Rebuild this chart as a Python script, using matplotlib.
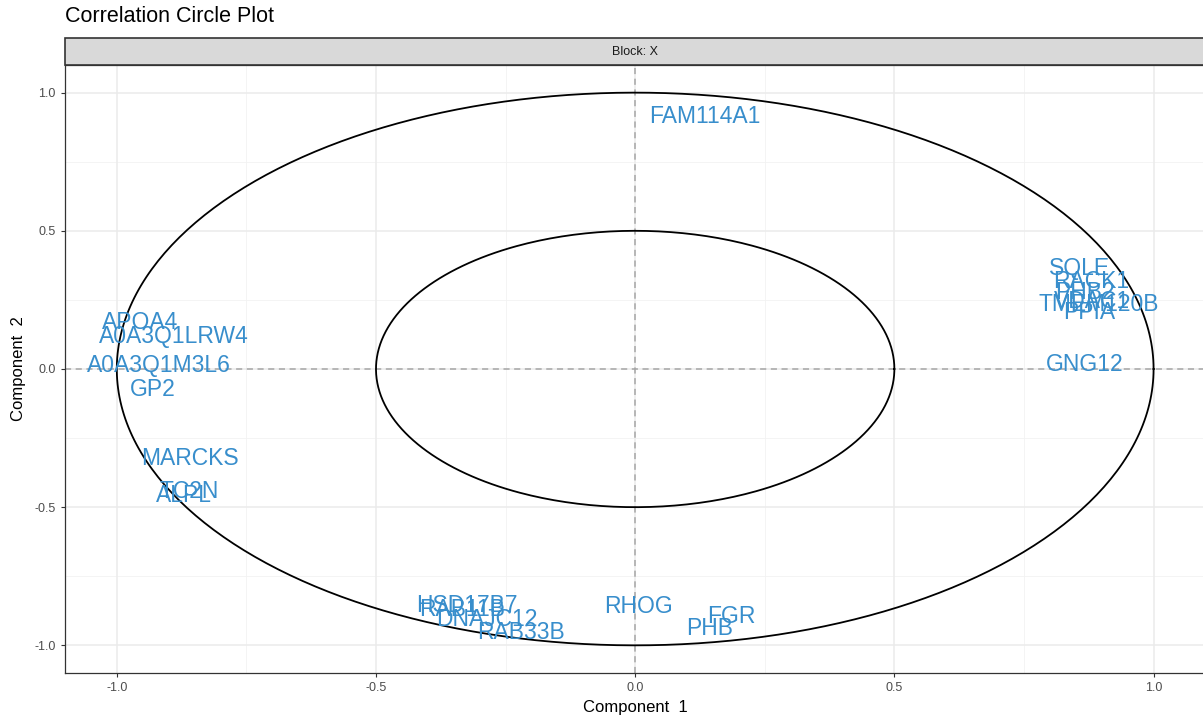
import numpy as np
import matplotlib.pyplot as plt
from matplotlib.patches import Rectangle

plt.rcParams['font.family'] = ['Liberation Sans', 'DejaVu Sans']

# variable names and their coordinates on components 1 and 2
names = ['FAM114A1', 'SQLE', 'RACK1', 'PHB2', 'VDAC1', 'TMEM120B', 'PPIA', 'GNG12',
         'APOA4', 'A0A3Q1LRW4', 'A0A3Q1M3L6', 'GP2', 'MARCKS', 'TC2N', 'ALPL',
         'HSD17B7', 'RAB11B', 'DNAJC12', 'RAB33B', 'RHOG', 'FGR', 'PHB']
comp1 = [0.135, 0.857, 0.880, 0.867, 0.882, 0.894, 0.876, 0.867,
         -0.956, -0.890, -0.919, -0.930, -0.859, -0.861, -0.871,
         -0.324, -0.334, -0.286, -0.220, 0.006, 0.185, 0.143]
comp2 = [0.915, 0.362, 0.315, 0.275, 0.245, 0.235, 0.203, 0.018,
         0.170, 0.116, 0.014, -0.076, -0.325, -0.445, -0.459,
         -0.857, -0.872, -0.908, -0.955, -0.861, -0.897, -0.940]

radii = [1.0, 0.5]
ticks = [-1.0, -0.5, 0.0, 0.5, 1.0]
minor = [-0.75, -0.25, 0.25, 0.75]

fig = plt.figure(figsize=(12.03, 7.19), dpi=100)
ax = fig.add_axes([0.054, 0.064, 0.948, 0.8456])

#grid like theme_bw
for t in minor:
    ax.axvline(t, color='#F2F2F2', lw=0.6, zorder=0)
    ax.axhline(t, color='#F2F2F2', lw=0.6, zorder=0)
for t in ticks:
    ax.axvline(t, color='#EBEBEB', lw=1.1, zorder=0)
    ax.axhline(t, color='#EBEBEB', lw=1.1, zorder=0)

ax.axvline(0, color='#A6A6A6', lw=1.1, ls=(0, (4, 3)), zorder=1)
ax.axhline(0, color='#A6A6A6', lw=1.1, ls=(0, (4, 3)), zorder=1)

theta = np.linspace(0, 2 * np.pi, 400)
for r in radii:
    ax.plot(r * np.cos(theta), r * np.sin(theta), color='black', lw=1.3, zorder=2)

for n, x, y in zip(names, comp1, comp2):
    ax.text(x, y, n, color='#388ECC', fontsize=16.5, ha='center', va='center', zorder=3)

ax.set_xlim(-1.1, 1.1)
ax.set_ylim(-1.1, 1.1)
ax.set_xticks(ticks)
ax.set_yticks(ticks)
ax.set_xticklabels(['-1.0', '-0.5', '0.0', '0.5', '1.0'])
ax.set_yticklabels(['-1.0', '-0.5', '0.0', '0.5', '1.0'])
ax.tick_params(colors='#333333', labelcolor='#4D4D4D', labelsize=9, length=3, width=0.8)
for s in ax.spines.values():
    s.set_color('#333333')
    s.set_linewidth(0.9)
ax.set_xlabel('Component  1', fontsize=12, labelpad=4)
ax.set_ylabel('Component  2', fontsize=12, labelpad=6)

#facet strip on top
strip = fig.add_axes([0.054, 0.9096, 0.948, 0.0375])
strip.set_xlim(0, 1)
strip.set_ylim(0, 1)
strip.add_patch(Rectangle((0, 0), 1, 1, facecolor='#D9D9D9', edgecolor='#333333', lw=1.2,
                          clip_on=False))
strip.text(0.5, 0.5, 'Block: X', ha='center', va='center', fontsize=9, color='#1A1A1A')
strip.axis('off')

fig.text(0.054, 0.962, 'Correlation Circle Plot', fontsize=15.5, ha='left', va='bottom')

fig.savefig('out.png', dpi=100)
